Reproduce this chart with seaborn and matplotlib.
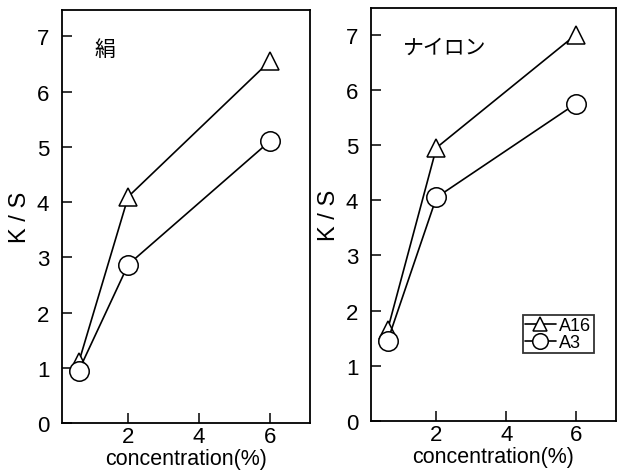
import pandas as pd
import matplotlib
matplotlib.use("Agg")
import matplotlib.pyplot as plt
import seaborn as sns

# valores
conc = [0.6, 2, 6]
silk_a16 = [1.1, 4.1, 6.55]
silk_a3 = [0.95, 2.87, 5.1]
nylon_a16 = [1.65, 4.95, 7.0]
nylon_a3 = [1.45, 4.05, 5.75]
panel_names = ["絹", "ナイロン"]
series_names = ["A16", "A3"]

sns.set_style("ticks")
plt.rcParams['font.family'] = ['Liberation Sans', 'Noto Sans CJK JP']
plt.rcParams['axes.linewidth'] = 1.3
plt.rcParams['text.color'] = 'black'
plt.rcParams['axes.labelcolor'] = 'black'
plt.rcParams['xtick.color'] = 'black'
plt.rcParams['ytick.color'] = 'black'

fig = plt.figure(figsize=(6.18, 4.77), dpi=100)
ax1 = fig.add_axes([0.100, 0.111, 0.402, 0.866])
ax2 = fig.add_axes([0.600, 0.115, 0.397, 0.866])

paneles = [(ax1, silk_a16, silk_a3), (ax2, nylon_a16, nylon_a3)]
estilos = {"A16": dict(marker="^", markersize=13), "A3": dict(marker="o", markersize=14)}

for i, (ax, a16, a3) in enumerate(paneles):
    for nombre, valores in zip(series_names, [a16, a3]):
        df = pd.DataFrame({"x": conc, "y": valores})
        sns.lineplot(data=df, x="x", y="y", ax=ax, color="black", linewidth=1.2,
                     markerfacecolor="white", markeredgecolor="black",
                     markeredgewidth=1.1, label=nombre, legend=False,
                     **estilos[nombre])
    ax.set_xlim(0.12, 7.15)
    ax.set_ylim(0, 7.48)
    ax.set_xticks([2, 4, 6])
    ax.set_yticks(range(0, 8))
    ax.tick_params(direction="in", length=7, width=1.1, labelsize=16, pad=2)
    ax.tick_params(axis="y", pad=9)
    ax.set_xlabel("concentration(%)", fontsize=15.5, labelpad=1)
    ax.set_ylabel("K / S", fontsize=17, labelpad=4)
    ax.text(0.13, 0.905, panel_names[i], transform=ax.transAxes,
            fontsize=15, ha="left", va="center")
    for s in ax.spines.values():
        s.set_visible(True)
        s.set_color("black")

leg = ax2.legend(loc="lower left", bbox_to_anchor=(0.62, 0.165, 0.37, 0.075),
                 fontsize=13, frameon=True, fancybox=False, edgecolor="black",
                 handlelength=1.7, handletextpad=0.2, borderpad=0.12,
                 labelspacing=0.0, markerscale=0.8, borderaxespad=0)
leg.get_frame().set_linewidth(1.3)

fig.savefig("out.png", dpi=100)
